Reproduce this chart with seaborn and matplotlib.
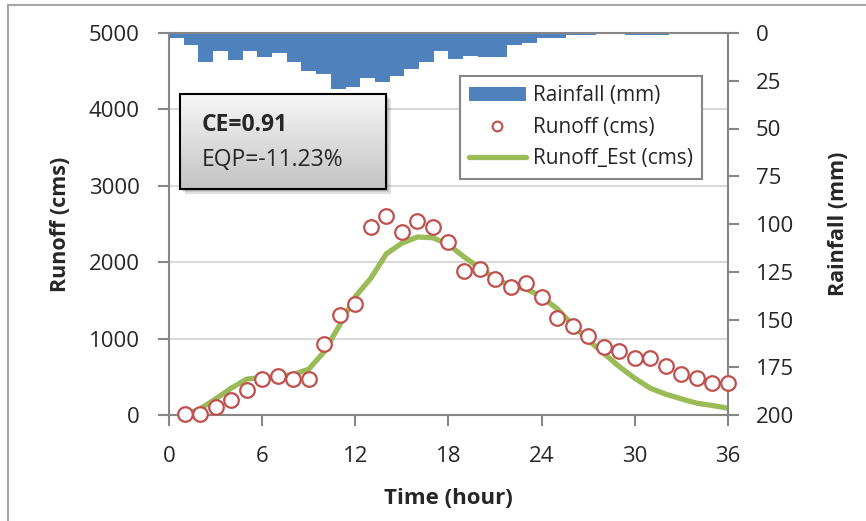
import numpy as np
import matplotlib
matplotlib.use("Agg")
import matplotlib.pyplot as plt
import seaborn as sns
from matplotlib.patches import Patch, Rectangle
from matplotlib.lines import Line2D
from matplotlib.colors import LinearSegmentedColormap

# données
hours = list(range(1, 37))
runoff_obs = [10, 15, 107, 198, 329, 473, 516, 467, 473, 930, 1303, 1452,
              2461, 2604, 2396, 2543, 2457, 2265, 1886, 1916, 1778, 1674, 1726, 1538,
              1273, 1168, 1029, 890, 838, 742, 751, 646, 542, 480, 415, 415]
runoff_est = [0, 80, 210, 350, 470, 490, 500, 530, 600, 830, 1180, 1550,
              1790, 2110, 2250, 2330, 2320, 2230, 2070, 1925, 1790, 1690, 1650, 1547,
              1390, 1177, 980, 807, 633, 480, 350, 272, 211, 154, 124, 89]
rain_mm = [2.6, 6.1, 15.4, 9.6, 14.1, 9.6, 12.7, 10.6, 15.4, 20.1, 21.3, 29.1,
           28.3, 23.6, 25.7, 22.3, 18.8, 15.4, 9.6, 13.6, 12.2, 12.5, 12.5, 6.3,
           5.1, 2.5, 2.5, 0.8, 0.8, 0, 0, 0.8, 0.8, 0.8, 0, 0, 0, 0]
rain_step = list(range(len(rain_mm)))

x_ticks = [0, 6, 12, 18, 24, 30, 36]
y_ticks = [0, 1000, 2000, 3000, 4000, 5000]
rain_ticks = [0, 25, 50, 75, 100, 125, 150, 175, 200]

BLUE = '#4F81BD'
RED = '#C0504D'
GREEN = '#9BBB59'
AXIS_GRAY = '#868686'

sns.set_style('white')
plt.rcParams['font.family'] = ['Open Sans', 'DejaVu Sans']

W, H = 866, 521
fig = plt.figure(figsize=(W / 100, H / 100), dpi=100)
pos = [169 / W, 1 - 415 / H, 559 / W, 382 / H]

# axe pluie (derrière)
ax_rain = fig.add_axes(pos)
sns.barplot(x=rain_step, y=rain_mm, color=BLUE, saturation=1, width=1,
            edgecolor='none', ax=ax_rain)
ax_rain.set_xlim(-0.5, len(rain_mm) - 0.5)
ax_rain.set_ylim(200, 0)
ax_rain.set_yticks(rain_ticks)
ax_rain.yaxis.tick_right()
ax_rain.yaxis.set_label_position('right')
ax_rain.xaxis.set_visible(False)
for s in ax_rain.spines.values():
    s.set_visible(False)
ax_rain.tick_params(axis='y', direction='out', length=8, width=1.5, color=AXIS_GRAY,
                    labelsize=16, pad=12, right=True, left=False)
ax_rain.set_ylabel('Rainfall (mm)', fontsize=15.5, fontweight='bold', rotation=90)
ax_rain.yaxis.set_label_coords((828 - 169) / 559, 0.5)

# axe débit (devant)
ax = fig.add_axes(pos)
ax.set_facecolor('none')
ax.yaxis.grid(True, color='#D9D9D9', linewidth=1.5)
ax.set_axisbelow(True)
sns.lineplot(x=hours, y=runoff_est, color=GREEN, linewidth=3.8, ax=ax, zorder=2)
sns.scatterplot(x=hours, y=runoff_obs, marker='o', s=110, color='white',
                edgecolor=RED, linewidth=1.6, ax=ax, zorder=3, clip_on=False)
ax.set_xlim(0, 36)
ax.set_ylim(0, 5000)
ax.set_xticks(x_ticks)
ax.set_yticks(y_ticks)
for s in ax.spines.values():
    s.set_visible(True)
    s.set_color(AXIS_GRAY)
    s.set_linewidth(1.5)
ax.tick_params(axis='both', direction='out', length=8, width=1.5, color=AXIS_GRAY,
               labelsize=16, left=True, bottom=True)
ax.tick_params(axis='y', pad=13)
ax.tick_params(axis='x', pad=14)
ax.set_xlabel('Time (hour)', fontsize=16, fontweight='bold')
ax.set_ylabel('Runoff (cms)', fontsize=15.5, fontweight='bold')
ax.xaxis.set_label_coords(0.5, (415 - 488) / 382)
ax.yaxis.set_label_coords((71 - 169) / 559, 0.5)

# légende
handles = [
    Patch(facecolor=BLUE, edgecolor='none', label='Rainfall (mm)'),
    Line2D([], [], marker='o', ls='none', mfc='white', mec=RED, ms=7, mew=1.5,
           label='Runoff (cms)'),
    Line2D([], [], color=GREEN, lw=3.8, label='Runoff_Est (cms)'),
]
leg = ax.legend(handles=handles, loc='upper left', bbox_to_anchor=(460 / W, 1 - 76 / H),
                bbox_transform=fig.transFigure, borderaxespad=0, fontsize=15,
                handlelength=2.7, handletextpad=0.35, labelspacing=0.5,
                borderpad=0.45, fancybox=False, framealpha=1)
leg.get_frame().set_edgecolor(AXIS_GRAY)
leg.get_frame().set_linewidth(1.5)

# encadré CE / EQP avec ombre
bx0, by0, bw, bh = 180 / W, 1 - 189 / H, 206 / W, 95 / H
for i, a in enumerate([0.10, 0.10, 0.12]):
    d = 1.5 + i * 1.5
    fig.patches.append(Rectangle((bx0 + d / W, by0 - d / H), bw, bh,
                                 transform=fig.transFigure, facecolor='black',
                                 edgecolor='none', alpha=a, zorder=5))
bx = fig.add_axes([bx0, by0, bw, bh], zorder=6)
grad = LinearSegmentedColormap.from_list('grad', ['#F7F7F7', '#C3C3C3'])
bx.imshow(np.linspace(0, 1, 100).reshape(-1, 1), cmap=grad, aspect='auto',
          extent=[0, 1, 0, 1])
bx.set_xticks([])
bx.set_yticks([])
for s in bx.spines.values():
    s.set_color('black')
    s.set_linewidth(1.5)
bx.text(0.105, 0.67, 'CE=0.91', fontsize=16.5, fontweight='bold', va='center',
        transform=bx.transAxes)
bx.text(0.105, 0.31, 'EQP=-11.23%', fontsize=16.5, va='center', transform=bx.transAxes)

# bordure de la zone graphique
fig.patches.append(Rectangle((8 / W, -0.1), 1.1, 0.1 + 1 - 5 / H, transform=fig.transFigure,
                             fill=False, edgecolor='#A6A6A6', linewidth=1.5))

fig.savefig('out.png', dpi=100)
